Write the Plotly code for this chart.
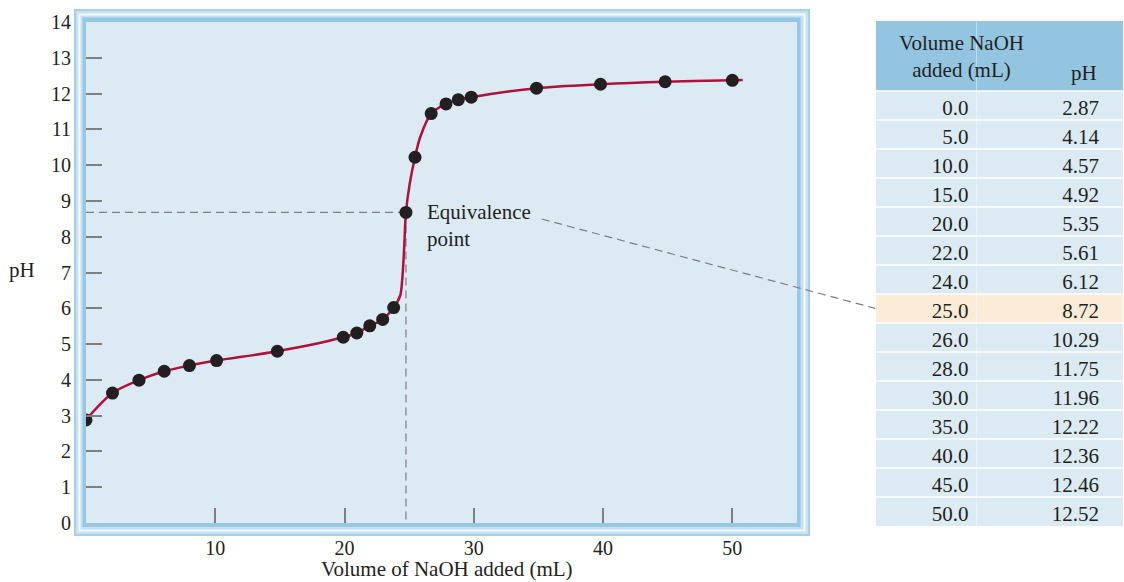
import plotly.graph_objects as go

W, H = 1124, 582

# ---- data ----
point_vol = [0, 2.05, 4.1, 6.05, 8.0, 10.1, 14.8, 19.9, 20.95, 21.95, 22.95, 23.8,
             24.75, 25.45, 26.7, 27.85, 28.8, 29.8, 34.85, 39.8, 44.8, 50.0]
point_ph = [2.88, 3.63, 3.99, 4.24, 4.40, 4.54, 4.80, 5.19, 5.31, 5.51, 5.69, 6.02,
            8.68, 10.22, 11.44, 11.71, 11.83, 11.90, 12.15, 12.26, 12.33, 12.37]

curve_vol = [0, 2.05, 4.1, 6.05, 8.0, 10.1, 14.8, 19.9, 20.95, 21.95, 22.95, 23.8,
             24.3, 24.45, 24.6, 24.75, 25.05, 25.45, 25.85, 26.7, 27.85, 28.8, 29.8,
             34.85, 39.8, 44.8, 50.0, 50.8]
curve_ph = [2.88, 3.63, 3.99, 4.24, 4.40, 4.54, 4.80, 5.19, 5.31, 5.51, 5.69, 6.02,
            6.35, 6.75, 7.6, 8.68, 9.5, 10.22, 10.78, 11.44, 11.71, 11.83, 11.90,
            12.15, 12.26, 12.33, 12.37, 12.38]

eq_vol = 24.75
eq_ph = 8.68

table_vol = ["0.0", "5.0", "10.0", "15.0", "20.0", "22.0", "24.0", "25.0", "26.0",
             "28.0", "30.0", "35.0", "40.0", "45.0", "50.0"]
table_ph = ["2.87", "4.14", "4.57", "4.92", "5.35", "5.61", "6.12", "8.72", "10.29",
            "11.75", "11.96", "12.22", "12.36", "12.46", "12.52"]
highlight_row = "25.0"

x_ticks = [10, 20, 30, 40, 50]
y_labels = list(range(0, 15))
y_tickmarks = list(range(1, 14))

header_vol = "Volume NaOH<br>added (mL)"
header_ph = "pH"
x_title = "Volume of NaOH added (mL)"
y_title = "pH"
eq_label = "Equivalence<br>point"

# ---- styling ----
FONT = "Liberation Serif"
TXT = "#231f20"
BG = "#dceaf4"
GRAY = "#7f7f7f"
FS = 21


def px(x):
    return x / W


def py(y):
    return (H - y) / H


# plot area (pixels)
L, R, T, B = 86, 797, 22, 523
# table geometry (pixels)
TL, TT, HEAD_H, ROW_H = 876, 21, 70, 29
TB = TT + HEAD_H + ROW_H * len(table_vol)

fig = go.Figure()

fig.add_trace(go.Scatter(x=[0, eq_vol], y=[eq_ph, eq_ph], mode="lines",
                         line=dict(color=GRAY, width=1.2, dash="8px,5px"),
                         hoverinfo="skip", showlegend=False))
fig.add_trace(go.Scatter(x=[eq_vol, eq_vol], y=[eq_ph, 0], mode="lines",
                         line=dict(color=GRAY, width=1.2, dash="8px,5px"),
                         hoverinfo="skip", showlegend=False))
fig.add_trace(go.Scatter(x=curve_vol, y=curve_ph, mode="lines",
                         line=dict(color="#b0103a", width=2.5, shape="spline", smoothing=0.9),
                         showlegend=False))
fig.add_trace(go.Scatter(x=point_vol, y=point_ph, mode="markers", yaxis="y2",
                         marker=dict(color=TXT, size=13),
                         showlegend=False))

# table
n = len(table_vol)
row_fill = ["#fcecd7" if v == highlight_row else BG for v in table_vol]
fig.add_trace(go.Table(
    domain=dict(x=[px(TL), 1.0], y=[py(TB), py(TT)]),
    columnwidth=[101, 131, 16],
    header=dict(values=["", "", ""], height=HEAD_H,
                fill=dict(color="#93c5e1"), line=dict(width=0)),
    cells=dict(values=[table_vol, table_ph, [""] * n], height=ROW_H,
               align="right",
               fill=dict(color=[row_fill, row_fill, row_fill]),
               line=dict(width=0),
               font=dict(family=FONT, size=FS, color=TXT)),
))

axis_common = dict(showgrid=False, zeroline=False, showline=False, automargin=False)
fig.update_layout(
    width=W, height=H,
    margin=dict(l=0, r=0, t=0, b=0, autoexpand=False),
    paper_bgcolor="white",
    plot_bgcolor=BG,
    font=dict(family=FONT, size=FS, color=TXT),
    xaxis=dict(domain=[px(L), px(R)], range=[0, 55], tickvals=x_ticks,
               ticks="inside", ticklen=15, tickwidth=1.5, tickcolor=GRAY,
               tickfont=dict(size=20), ticklabelstandoff=11, **axis_common),
    yaxis=dict(domain=[py(B), py(T)], range=[0, 14], tickvals=y_labels,
               ticks="", tickfont=dict(size=20), ticklabelstandoff=14, **axis_common),
    yaxis2=dict(domain=[py(B), py(T)], range=[0, 14], overlaying="y",
                tickvals=y_tickmarks, ticks="inside", ticklen=16, tickwidth=1.5,
                tickcolor=GRAY, showticklabels=False, side="left", **axis_common),
)

# frame around the plot area
frame = [
    (74, 9, 810, 536, "#a8d1e9"),
    (76, 11, 808, 534, "#c9e2f1"),
    (78.5, 13.5, 805.5, 531.5, "#f4f9fc"),
    (80.5, 15.5, 803.5, 529.5, "#c5e0f0"),
    (82.5, 17.5, 800.5, 527, "#96c7e3"),
    (L, T, R, B, BG),
]
for x0, y0, x1, y1, c in frame:
    fig.add_shape(type="rect", xref="paper", yref="paper", layer="below",
                  x0=px(x0), x1=px(x1), y0=py(y1), y1=py(y0),
                  fillcolor=c, line=dict(width=0))

# white separators between table rows
for i in range(n):
    yy = TT + HEAD_H + ROW_H * i
    fig.add_shape(type="line", xref="paper", yref="paper", layer="above",
                  x0=px(TL), x1=1.0, y0=py(yy), y1=py(yy),
                  line=dict(color="white", width=1.6))

# leader line to table row
fig.add_shape(type="line", xref="paper", yref="paper", layer="above",
              x0=px(541.7), y0=py(219), x1=px(875), y1=py(308.3),
              line=dict(color=GRAY, width=1.2, dash="8px,5px"))

fig.add_annotation(x=eq_vol + 1.45, y=eq_ph - 0.36, xref="x", yref="y", text=eq_label,
                   showarrow=False, xanchor="left", yanchor="middle", align="left",
                   font=dict(family=FONT, size=FS, color=TXT))
fig.add_annotation(x=px(447), y=py(569), xref="paper", yref="paper", text=x_title,
                   showarrow=False, xanchor="center", yanchor="middle",
                   font=dict(family=FONT, size=FS, color=TXT))
fig.add_annotation(x=px(22), y=py(270), xref="paper", yref="paper", text=y_title,
                   showarrow=False, xanchor="center", yanchor="middle",
                   font=dict(family=FONT, size=FS, color=TXT))
fig.add_annotation(x=px(961), y=py(57), xref="paper", yref="paper", text=header_vol,
                   showarrow=False, xanchor="center", yanchor="middle", align="center",
                   font=dict(family=FONT, size=FS, color=TXT))
fig.add_annotation(x=px(1084), y=py(73), xref="paper", yref="paper", text=header_ph,
                   showarrow=False, xanchor="center", yanchor="middle",
                   font=dict(family=FONT, size=FS, color=TXT))

fig.write_html(
    "out.html",
    config={"displayModeBar": False},
    post_script=("var d=document.getElementById('{plot_id}');"
                 "d.style.position='fixed';d.style.top='0px';d.style.left='0px';"
                 "document.body.style.margin='0';"
                 "document.documentElement.style.overflow='hidden';"),
)
